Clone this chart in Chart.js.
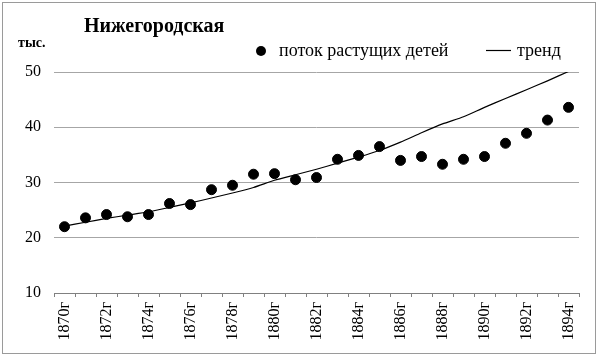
<!DOCTYPE html>
<html><head><meta charset="utf-8">
<script src="https://cdn.jsdelivr.net/npm/chart.js@4"></script>
<style>html,body{margin:0;padding:0;background:#fff}#wrap{width:600px;height:358px;position:relative}</style>
</head><body><div id="wrap"><canvas id="c" width="600" height="358"></canvas></div>
<script>
const years = ['1870г','1871г','1872г','1873г','1874г','1875г','1876г','1877г','1878г','1879г','1880г','1881г','1882г','1883г','1884г','1885г','1886г','1887г','1888г','1889г','1890г','1891г','1892г','1893г','1894г'];
const flowValues = [22.0,23.6,24.2,23.8,24.2,26.2,26.0,28.7,29.5,31.5,31.6,30.5,30.9,34.2,34.9,36.5,34.0,34.7,33.3,34.2,34.7,37.1,38.9,41.3,43.6];
const trendValues = [22.1,22.8,23.5,24.1,24.7,25.5,26.3,27.2,28.1,29.1,30.4,31.4,32.4,33.5,34.6,35.8,37.3,39.0,40.6,41.9,43.6,45.2,46.8,48.4,50.1];
const yTicks = [10,20,30,40,50];
const titleText = 'Нижегородская';
const unitText = 'тыс.';
const flowLabel = 'поток растущих детей';
const trendLabel = 'тренд';

const FONT = '"Liberation Serif","Times New Roman",serif';

const decor = {
  id:'decor',
  afterDraw(chart){
    const ctx = chart.ctx;
    ctx.save();
    ctx.strokeStyle = '#9a9a9a'; ctx.lineWidth = 1;
    ctx.strokeRect(2.5,2.5,593,351);
    ctx.fillStyle = '#000';
    ctx.textBaseline = 'alphabetic';
    ctx.font = 'bold 20px ' + FONT;
    ctx.fillText(titleText, 84, 32);
    ctx.font = 'bold 14px ' + FONT;
    ctx.fillText(unitText, 18, 47);
    // legend
    const ds = chart.data.datasets;
    ctx.font = '18px ' + FONT;
    ctx.beginPath(); ctx.arc(261, 51, 5, 0, Math.PI*2); ctx.fillStyle = ds[0].backgroundColor; ctx.fill();
    ctx.fillStyle = '#000';
    ctx.fillText(ds[0].label, 279, 56);
    ctx.beginPath(); ctx.moveTo(486, 50.5); ctx.lineTo(511, 50.5); ctx.strokeStyle = ds[1].borderColor; ctx.lineWidth = 1.2; ctx.stroke();
    ctx.fillText(ds[1].label, 517, 56);
    ctx.restore();
  }
};

new Chart(document.getElementById('c'), {
  type:'line',
  data:{
    labels: years,
    datasets:[
      {label: flowLabel, data: flowValues, showLine:false, pointRadius:5, pointHoverRadius:5, backgroundColor:'#000', borderColor:'#000', order:0},
      {label: trendLabel, data: trendValues, pointRadius:0, borderColor:'#000', borderWidth:1.2, tension:0.2, fill:false, order:1}
    ]
  },
  options:{
    responsive:false, animation:false, devicePixelRatio:1,
    layout:{padding:{top:72,right:21,left:0,bottom:0}},
    plugins:{legend:{display:false}, title:{display:false}, tooltip:{enabled:false}},
    scales:{
      x:{
        offset:true,
        grid:{offset:true, drawOnChartArea:false, drawTicks:true, tickLength:4, color:'#808080'},
        border:{color:'#808080'},
        ticks:{autoSkip:false, maxRotation:90, minRotation:90, padding:5, color:'#000', font:{family:FONT, size:16},
          callback:function(v,i){ return i%2===0 ? this.getLabelForValue(v) : ''; }},
        afterFit(s){ s.height = 65; }
      },
      y:{
        min:10, max:50,
        afterBuildTicks(s){ s.ticks = yTicks.map(v=>({value:v})); },
        grid:{color:'#a6a6a6', drawTicks:false},
        border:{display:false},
        ticks:{padding:13, color:'#000', font:{family:FONT, size:16}},
        afterFit(s){ s.width = 54; }
      }
    }
  },
  plugins:[decor]
});
</script></body></html>
